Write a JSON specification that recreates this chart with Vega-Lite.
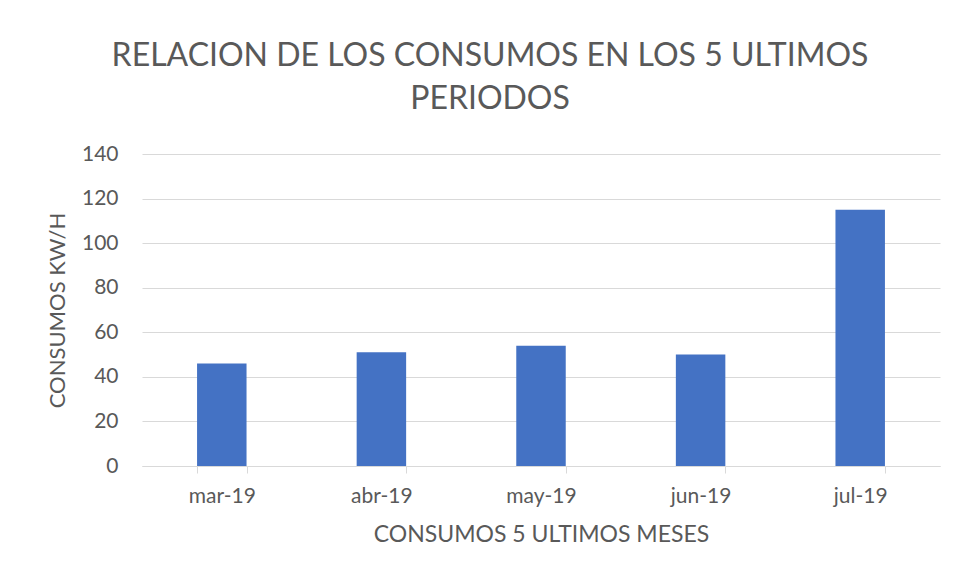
{
  "$schema": "https://vega.github.io/schema/vega-lite/v6.json",
  "width": 798,
  "height": 312,
  "autosize": "none",
  "padding": {"left": 142, "top": 154, "right": 16, "bottom": 111},
  "background": "white",
  "title": {
    "text": ["RELACION DE LOS CONSUMOS EN LOS 5 ULTIMOS", "PERIODOS"],
    "anchor": "middle",
    "dx": -51,
    "offset": 27,
    "lineHeight": 43,
    "font": "Lato",
    "fontSize": 32,
    "fontWeight": "normal",
    "color": "#595959"
  },
  "data": {
    "values": [
      {"mes": "mar-19", "consumo": 46},
      {"mes": "abr-19", "consumo": 51},
      {"mes": "may-19", "consumo": 54},
      {"mes": "jun-19", "consumo": 50},
      {"mes": "jul-19", "consumo": 115}
    ]
  },
  "mark": {"type": "bar", "color": "#4472C4"},
  "encoding": {
    "x": {
      "field": "mes",
      "type": "nominal",
      "sort": null,
      "scale": {"paddingInner": 0.69, "paddingOuter": 0.345},
      "axis": {
        "title": "CONSUMOS 5 ULTIMOS MESES",
        "labelAngle": 0,
        "tickBand": "extent",
        "tickSize": 7,
        "tickColor": "#d9d9d9",
        "domainColor": "#d9d9d9",
        "labelPadding": 12,
        "labelFont": "Lato",
        "labelFontSize": 21,
        "labelColor": "#595959",
        "titleFont": "Lato",
        "titleFontSize": 23,
        "titleFontWeight": "normal",
        "titleColor": "#595959",
        "titlePadding": 17
      }
    },
    "y": {
      "field": "consumo",
      "type": "quantitative",
      "scale": {"domain": [0, 140]},
      "axis": {
        "title": "CONSUMOS KW/H",
        "values": [0, 20, 40, 60, 80, 100, 120, 140],
        "domain": false,
        "ticks": false,
        "gridColor": "#d9d9d9",
        "labelPadding": 24,
        "labelFont": "Lato",
        "labelFontSize": 21,
        "labelColor": "#595959",
        "titleFont": "Lato",
        "titleFontSize": 22,
        "titleFontWeight": "normal",
        "titleColor": "#595959",
        "titlePadding": 12
      }
    }
  },
  "config": {"view": {"stroke": null}}
}
